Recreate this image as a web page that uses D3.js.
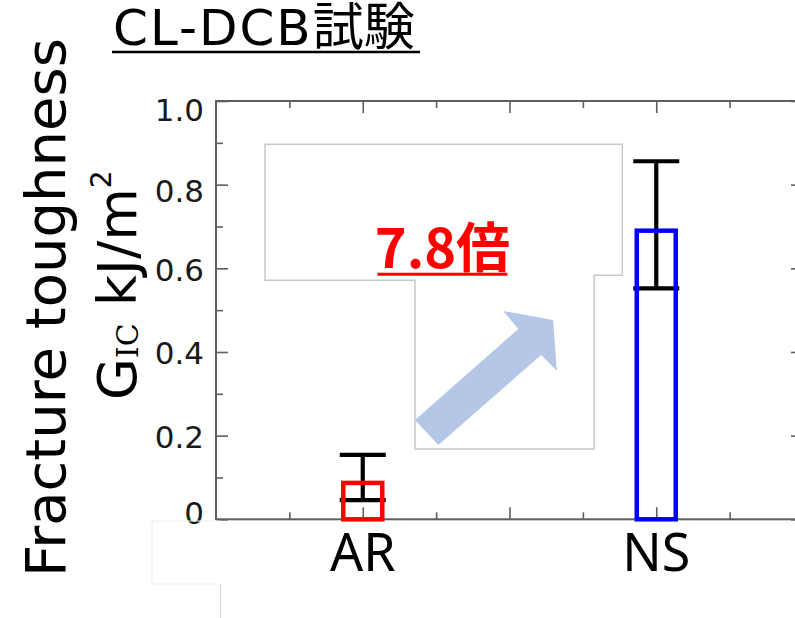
<!DOCTYPE html>
<html><head><meta charset="utf-8">
<script src="https://cdn.jsdelivr.net/npm/d3@7"></script>
<style>html,body{margin:0;padding:0;background:#fff;}svg{display:block;}</style>
</head><body>
<svg id="chart" width="795" height="618"></svg>
<script>
// ---- data ----
const categories = ["AR", "NS"];
const categoryPos = [1, 3];
const means = [0.087, 0.69];
const errLow = [0.046, 0.552];
const errHigh = [0.154, 0.856];
const barColors = ["#ff0000", "#0000ff"];
const yTickValues = [0, 0.2, 0.4, 0.6, 0.8, 1.0];
const yTickLabels = ["0", "0.2", "0.4", "0.6", "0.8", "1.0"];
const yMinorTicks = [0.1, 0.3, 0.5, 0.7, 0.9];
const xMajorTicks = [1, 2, 3];
const xMinorTicks = [0.5, 1.5, 2.5, 3.5];
const ratioLabel = "7.8倍";
const titleLatin = "CL-DCB";
const titleCJK = "試験";
const yTitle1 = "Fracture toughness";

// annotation geometry in data coordinates (x position, y value)
const calloutX = [0.334, 2.769, 2.769, 2.577, 2.577, 1.356, 1.356, 0.334];
const calloutY = [0.8965, 0.8965, 0.5833, 0.5833, 0.168, 0.168, 0.5714, 0.5714];
const arrowX = [1.356, 2.060, 1.957, 2.298, 2.322, 2.215, 1.515];
const arrowY = [0.2374, 0.4549, 0.4980, 0.4764, 0.3552, 0.3928, 0.1776];

// ---- layout ----
const svg = d3.select("#chart");
const x = d3.scaleLinear().domain([0, 4]).range([216, 803]);
const y = d3.scaleLinear().domain([0, 1]).range([519.3, 101]);
const axisColor = "#5f5f5f";
const FONT = "'DejaVu Sans', Verdana, sans-serif";

// frame
svg.append("rect")
  .attr("x", x(0)).attr("y", y(1))
  .attr("width", x(4) - x(0)).attr("height", y(0) - y(1))
  .attr("fill", "none").attr("stroke", axisColor).attr("stroke-width", 2);

function tickAxis(gen, size, values, tx, ty) {
  const g = svg.append("g").attr("transform", `translate(${tx},${ty})`)
    .call(gen.tickValues(values).tickSize(size).tickSizeOuter(0).tickFormat(""));
  g.select(".domain").remove();
  g.selectAll(".tick line").attr("stroke", axisColor).attr("stroke-width", 1.6);
  return g;
}
// left / right
tickAxis(d3.axisLeft(y), -12, yTickValues, x(0), 0);
tickAxis(d3.axisLeft(y), -7, yMinorTicks, x(0), 0);
tickAxis(d3.axisRight(y), -12, yTickValues, x(4), 0);
tickAxis(d3.axisRight(y), -7, yMinorTicks, x(4), 0);
// bottom / top
tickAxis(d3.axisBottom(x), -12, xMajorTicks, 0, y(0));
tickAxis(d3.axisBottom(x), -7, xMinorTicks, 0, y(0));
tickAxis(d3.axisTop(x), -12, xMajorTicks, 0, y(1));
tickAxis(d3.axisTop(x), -7, xMinorTicks, 0, y(1));

// y tick labels
const yLabelNudge = {"0": -6, "0.2": 1, "0.4": 1, "0.6": 2, "0.8": 6, "1.0": 8.5};
svg.append("g").selectAll("text").data(yTickValues).join("text")
  .attr("x", x(0) - 12)
  .attr("y", (d, i) => y(d) + yLabelNudge[yTickLabels[i]])
  .attr("dy", "0.36em")
  .attr("text-anchor", "end")
  .attr("font-family", FONT).attr("font-size", 31).attr("fill", "#1a1a1a")
  .text((d, i) => yTickLabels[i]);

// x category labels
svg.append("g").selectAll("text").data(categories).join("text")
  .attr("x", (d, i) => x(categoryPos[i]))
  .attr("y", 571)
  .attr("text-anchor", "middle")
  .attr("font-family", "'Noto Sans', sans-serif").attr("font-size", 52).attr("fill", "#000")
  .text(d => d);

// callout box
const lineGen = d3.line().x(d => x(d[0])).y(d => y(d[1]));
svg.append("path")
  .attr("d", lineGen(calloutX.map((v, i) => [v, calloutY[i]])) + "Z")
  .attr("fill", "#fff").attr("stroke", "#c8c8c8").attr("stroke-width", 1.5);

// arrow
svg.append("path")
  .attr("d", lineGen(arrowX.map((v, i) => [v, arrowY[i]])) + "Z")
  .attr("fill", "#b4c7e7").attr("stroke", "none");

// ratio text
const rx = x(1.543), ry = y(0.6);
svg.append("text")
  .attr("x", rx).attr("y", ry)
  .attr("text-anchor", "middle")
  .attr("font-family", "'Noto Sans CJK JP', sans-serif").attr("font-weight", "bold")
  .attr("font-size", 54).attr("fill", "#ff0000")
  .text(ratioLabel);
svg.append("line")
  .attr("x1", rx - 65).attr("x2", rx + 65).attr("y1", ry + 6).attr("y2", ry + 6)
  .attr("stroke", "#ff0000").attr("stroke-width", 3);

// error bars
const eb = svg.append("g").attr("stroke", "#000").attr("stroke-width", 4.2);
categories.forEach((c, i) => {
  const cx = x(categoryPos[i]);
  eb.append("line").attr("x1", cx).attr("x2", cx).attr("y1", y(errLow[i])).attr("y2", y(errHigh[i]));
  eb.append("line").attr("x1", cx - 23).attr("x2", cx + 23).attr("y1", y(errHigh[i])).attr("y2", y(errHigh[i]));
  eb.append("line").attr("x1", cx - 23).attr("x2", cx + 23).attr("y1", y(errLow[i])).attr("y2", y(errLow[i]));
});

// bars (outline only)
const barW = 39;
svg.append("g").selectAll("rect").data(means).join("rect")
  .attr("x", (d, i) => x(categoryPos[i]) - barW / 2)
  .attr("y", d => y(d))
  .attr("width", barW)
  .attr("height", d => y(0) - y(d))
  .attr("fill", "none")
  .attr("stroke", (d, i) => barColors[i])
  .attr("stroke-width", 4.5);

// title
const title = svg.append("text").attr("x", 113).attr("y", 45)
  .attr("font-size", 50).attr("fill", "#000");
title.append("tspan").attr("font-family", FONT).attr("letter-spacing", 2).text(titleLatin);
title.append("tspan").attr("font-family", "'Noto Sans CJK JP', sans-serif").attr("font-size", 51).text(titleCJK);
svg.append("line").attr("x1", 112).attr("x2", 420).attr("y1", 52).attr("y2", 52)
  .attr("stroke", "#000").attr("stroke-width", 2.5);

// y-axis title
svg.append("text")
  .attr("transform", "translate(65,577) rotate(-90)")
  .attr("font-family", FONT).attr("font-size", 56).attr("fill", "#000")
  .text(yTitle1);
const t2 = svg.append("text")
  .attr("transform", "translate(136,400) rotate(-90)")
  .attr("font-family", FONT).attr("font-size", 54).attr("fill", "#000");
t2.append("tspan").text("G");
t2.append("tspan").attr("font-size", 30).attr("font-family", "'DejaVu Serif', serif").attr("dy", 2).text("IC");
t2.append("tspan").attr("dy", -2).text(" kJ/m");
t2.append("tspan").attr("font-size", 28).attr("dy", -25).text("2");

// cropped-image artifact lines at bottom-left
svg.append("path")
  .attr("d", "M152,521H220M152,521V584H220")
  .attr("fill", "none").attr("stroke", "#eeeeee").attr("stroke-width", 1);
svg.append("line").attr("x1", 220.5).attr("x2", 220.5).attr("y1", 584).attr("y2", 618)
  .attr("stroke", "#d0d0d0").attr("stroke-width", 1);
</script>
</body></html>
